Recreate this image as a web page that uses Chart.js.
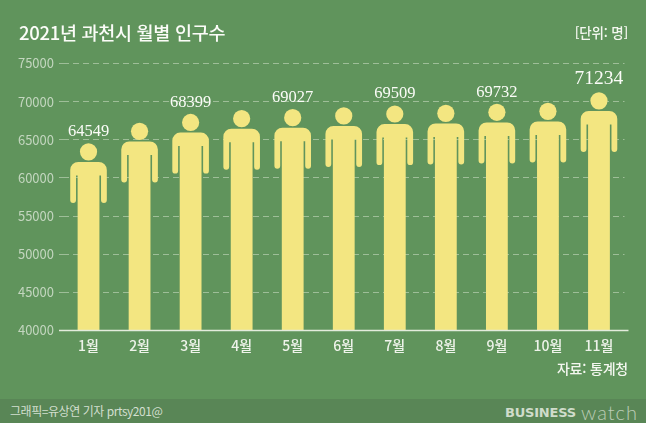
<!DOCTYPE html>
<html lang="ko">
<head>
    <meta charset="UTF-8">
    <title>2021년 과천시 월별 인구수</title>
    <script src="https://cdn.jsdelivr.net/npm/chart.js"></script>
    <style>
        body {
            margin: 0;
            width: 646px;
            height: 423px;
            position: relative;
            overflow: hidden;
            background: #60945c;
            font-family: "Noto Sans CJK KR", sans-serif;
        }
        canvas { position: absolute; left: 0; top: 0; }
        .label { position: absolute; white-space: nowrap; line-height: 1; }
        #title { left: 19px; top: 23px; font-size: 18.5px; font-weight: 500; color: #fbfcf8; letter-spacing: -0.3px; }
        #unit { right: 18px; top: 26px; font-size: 13.5px; font-weight: 500; color: #f4f7f0; letter-spacing: -0.2px; }
        #source { right: 18px; top: 361px; font-size: 14px; font-weight: 500; color: #f4f7f0; letter-spacing: -0.2px; }
        #footer { left: 0; top: 399px; width: 646px; height: 24px; background: #598656; }
        #credit { left: 10px; top: 405px; font-size: 12px; color: #d3dfcf; letter-spacing: -0.45px; }
        #logo1 { left: 505px; top: 406px; font-family: "DejaVu Sans", sans-serif; font-size: 13px; font-weight: bold; color: #d0dccb; letter-spacing: -0.2px; }
        #logo2 { left: 581px; top: 402px; font-family: "Lato", sans-serif; font-size: 20px; font-weight: 300; color: #bccdb7; letter-spacing: 1px; }
    </style>
</head>
<body>
    <canvas id="chart" width="646" height="423"></canvas>
    <div class="label" id="title">2021년 과천시 월별 인구수</div>
    <div class="label" id="unit">[단위: 명]</div>
    <div class="label" id="source">자료: 통계청</div>
    <div class="label" id="footer"></div>
    <div class="label" id="credit">그래픽=유상연 기자 prtsy201@</div>
    <div class="label" id="logo1">BUSINESS</div>
    <div class="label" id="logo2">watch</div>

    <script>
        const months = ['1월', '2월', '3월', '4월', '5월', '6월', '7월', '8월', '9월', '10월', '11월'];
        const population = [64549, 67240, 68399, 68900, 69027, 69260, 69509, 69600, 69732, 69860, 71234];
        // only these months have a number printed above the figure
        const labelled = [true, false, true, false, true, false, true, false, true, false, true];
        const yMin = 40000;
        const yMax = 75000;
        const yStep = 5000;

        const yellow = '#f3e681';
        const gridColor = 'rgba(220,232,212,0.5)';

        // draws each bar as a person standing on the axis, head top = value
        const peoplePlugin = {
            id: 'people',
            beforeDatasetDraw(chart, args) {
                const ctx = chart.ctx;
                ctx.save();
                ctx.fillStyle = yellow;
                args.meta.data.forEach(bar => {
                    const x = bar.x;
                    const top = bar.y;
                    const shoulder = top + 18.7;
                    ctx.beginPath();
                    ctx.arc(x, top + 8.6, 8.6, 0, Math.PI * 2);
                    ctx.fill();
                    ctx.beginPath();
                    ctx.roundRect(x - 18.3, shoulder, 36.6, 13.5, [8, 8, 0, 0]);
                    ctx.roundRect(x - 18.3, shoulder + 8, 5.8, 33, [0, 0, 3, 3]);
                    ctx.roundRect(x + 12.5, shoulder + 8, 5.8, 33, [0, 0, 3, 3]);
                    ctx.rect(x - 10.9, shoulder + 8, 21.8, bar.base - shoulder - 8);
                    ctx.fill();
                });
                ctx.restore();
                return false;
            },
            afterDatasetsDraw(chart) {
                const ctx = chart.ctx;
                const area = chart.chartArea;
                const base = chart.scales.y.getPixelForValue(yMin);
                ctx.save();
                ctx.strokeStyle = '#e3ecdc';
                ctx.lineWidth = 1.5;
                ctx.beginPath();
                ctx.moveTo(area.left - 4, base);
                ctx.lineTo(area.right + 4, base);
                ctx.stroke();

                ctx.fillStyle = '#fbfcf8';
                ctx.textAlign = 'center';
                ctx.textBaseline = 'middle';
                chart.getDatasetMeta(0).data.forEach((bar, i) => {
                    if (!labelled[i]) return;
                    const last = i === population.length - 1;
                    ctx.font = (last ? '19.5px' : '16.5px') + ' "Liberation Serif", serif';
                    ctx.fillText(population[i], bar.x, bar.y - (last ? 13 : 11.5));
                });
                ctx.restore();
            }
        };

        new Chart(document.getElementById('chart'), {
            type: 'bar',
            data: {
                labels: months,
                datasets: [{
                    data: population,
                    backgroundColor: yellow,
                    barThickness: 22,
                    base: yMin
                }]
            },
            options: {
                responsive: false,
                animation: false,
                layout: { padding: { top: 63.5, right: 21.5, left: 0, bottom: 0 } },
                plugins: {
                    legend: { display: false },
                    tooltip: { enabled: false }
                },
                scales: {
                    x: {
                        grid: { display: false },
                        border: { display: false },
                        ticks: {
                            color: '#eef3ea',
                            padding: -1,
                            maxRotation: 0,
                            font: { family: '"Noto Sans CJK KR"', size: 14, weight: '500' }
                        },
                        afterFit(scale) { scale.height = 92.5; }
                    },
                    y: {
                        min: yMin,
                        max: yMax,
                        ticks: {
                            stepSize: yStep,
                            color: '#c3d6bf',
                            padding: 5,
                            font: { family: '"Noto Sans CJK KR"', size: 13 },
                            callback: v => String(v)
                        },
                        grid: {
                            color: c => c.tick.value === yMin ? 'transparent' : gridColor,
                            tickColor: c => c.tick.value === yMin ? 'transparent' : gridColor,
                            tickLength: 4,
                            tickBorderDash: [6, 4]
                        },
                        border: { display: false, dash: [6, 4] },
                        afterFit(scale) { scale.width = 63; }
                    }
                }
            },
            plugins: [peoplePlugin]
        });
    </script>
</body>
</html>
